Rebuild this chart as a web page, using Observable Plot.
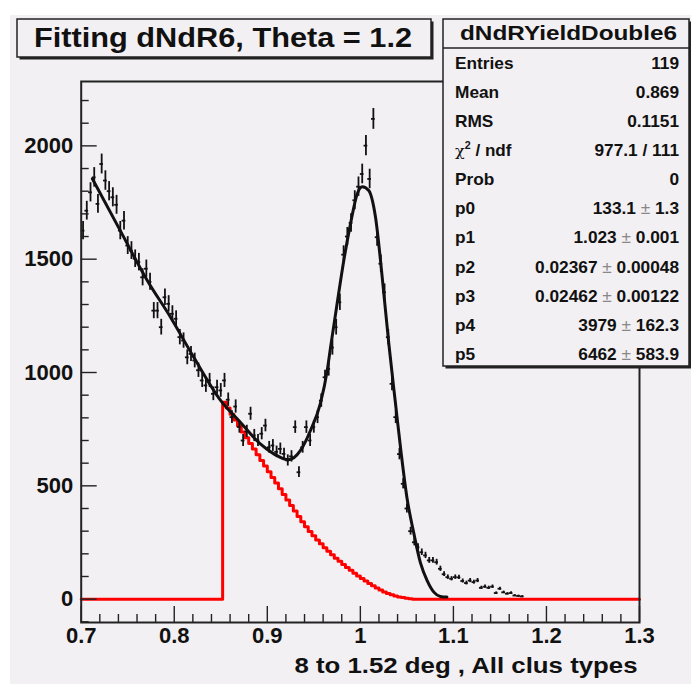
<!DOCTYPE html>
<html><head><meta charset="utf-8">
<script src="https://cdn.jsdelivr.net/npm/d3@7"></script>
<script src="https://cdn.jsdelivr.net/npm/@observablehq/plot@0.6"></script>
<style>
html,body{margin:0;padding:0;background:#fff;}
#wrap{position:relative;width:691px;height:684px;overflow:hidden;}
#bg{position:absolute;left:10px;top:15px;right:0;bottom:0;background:#f3f0f3;}
#chart{position:absolute;left:0;top:0;}
#overlay{position:absolute;left:0;top:0;}
</style></head><body>
<div id="wrap"><div id="bg"></div><div id="chart"></div><svg id="overlay" width="691" height="684"></svg></div>
<script>
// ---- histogram binning ----
const binWidth = 0.004;
const firstBinCenter = 0.702;
// ---- data histogram counts (bins of 0.004 starting at 0.700) ----
const counts = [
  1626, 1714, 1795, 1861, 1744, 1920, 1847, 1800, 1773, 1740,
  1626, 1670, 1560, 1538, 1502, 1487, 1420, 1458, 1400, 1273,
  1273, 1200, 1332, 1303, 1259, 1237, 1156, 1141, 1067, 1082,
  1053, 1010,  965,  943,  965,  906,  935,  921,  965,  880,
   803,  850,  760,  700,  740,  818,  722,  700,  730,  766,
   670,  678,  650,  663,  641,  612,  630,  759,  560,  670,
   759,  700,  760,  803,  876,  979, 1016, 1110, 1200, 1310,
  1520, 1600, 1660, 1760, 1820, 1876, 2001, 1854, 2119, 1597,
  1480, 1354, 1156,  950,  803,  640,  509,  400,  300,  251,
   229,  207,  193,  171,  171,  163,  134,  110,   97,   90,
    97,   96,   80,   71,   82,   75,   82,   50,   55,   50,
    55,   27,   46,   30,   24,   27,   16,   14,   12
];
// ---- fit curve (black) ----
const fitX = [0.712,0.742,0.771,0.796,0.821,0.850,0.871,0.8925,0.907,0.923,0.9357,0.9464,0.957,0.9644,0.968,0.975,0.9822,0.9894,0.9966,1.002,1.009,1.0163,1.0235,1.0306,1.0378,1.044,1.050,1.0575,1.0646,1.0718,1.079,1.086,1.093];
const fitY = [1855,1626,1406,1244,1067,876,781,685,641,615,656,744,863,1009,1112,1303,1494,1656,1788,1820,1803,1685,1420,1127,862,640,450,290,160,82,31,12,9];
// ---- background histogram (red), bins of 0.004 starting at 0.852 ----
const bkgStart = 0.852;
const bkgValues = [869,843,816,790,764,738,712,687,662,637,612,587,562,537,512,487,462,438,413,389,365,342,320,299,280,261,244,227,211,196,181,167,153,140,127,114,102,91,80,69,59,49,40,32,25,19,14,10,7,4,2];
// ---- axes ----
const xDomain = [0.7, 1.3];
const yDomain = [-103, 2284];
const xTicks = [0.7, 0.8, 0.9, 1.0, 1.1, 1.2, 1.3];
const xTickLabels = ["0.7", "0.8", "0.9", "1", "1.1", "1.2", "1.3"];
const xMinor = [0.72,0.74,0.76,0.78,0.82,0.84,0.86,0.88,0.92,0.94,0.96,0.98,1.02,1.04,1.06,1.08,1.12,1.14,1.16,1.18,1.22,1.24,1.26,1.28];
const yTicks = [0, 500, 1000, 1500, 2000];
const yTickLabels = ["0", "500", "1000", "1500", "2000"];
const yMinor = [-100,100,200,300,400,600,700,800,900,1100,1200,1300,1400,1600,1700,1800,1900,2100,2200];
const xLabel = "8 to 1.52 deg , All clus types";
// ---- title and stats ----
const title = "Fitting dNdR6, Theta = 1.2";
const statsName = "dNdRYieldDouble6";
const statsLabels = ["Entries", "Mean", "RMS", "chi2", "Prob", "p0", "p1", "p2", "p3", "p4", "p5"];
const statsValues = [["119"], ["0.869"], ["0.1151"], ["977.1 / 111"], ["0"],
  ["133.1", "1.3"], ["1.023", "0.001"], ["0.02367", "0.00048"], ["0.02462", "0.00122"], ["3979", "162.3"], ["6462", "583.9"]];

const W = 691, H = 684, mL = 80.7, mR = 52, mT = 81, mB = 62;
const frameW = W - mL - mR, frameH = H - mT - mB;

const hist = counts.map((c, i) => ({x: firstBinCenter + i * binWidth, y: c, e: Math.sqrt(c)}));
const fit = fitX.map((x, i) => ({x, y: fitY[i]}));
const bkg = [{x: xDomain[0], y: 0}]
  .concat(bkgValues.map((v, i) => ({x: bkgStart + i * binWidth, y: v})))
  .concat([{x: bkgStart + bkgValues.length * binWidth, y: 0}, {x: xDomain[1], y: 0}]);
const xLabelMap = new Map(xTicks.map((t, i) => [t, xTickLabels[i]]));
const yLabelMap = new Map(yTicks.map((t, i) => [t, yTickLabels[i]]));

const ink = "#111";
const chart = Plot.plot({
  width: W, height: H,
  marginLeft: mL, marginRight: mR, marginTop: mT, marginBottom: mB,
  x: {domain: xDomain},
  y: {domain: yDomain},
  style: {background: "transparent", fontFamily: "'Liberation Sans', Arial, Helvetica, sans-serif", fontWeight: "bold", fontSize: "22px", color: ink, overflow: "visible"},
  marks: [
    Plot.line(bkg, {x: "x", y: "y", curve: "step-after", stroke: "#ff0000", strokeWidth: 3}),
    Plot.ruleX(hist, {x: "x", y1: d => d.y - d.e, y2: d => d.y + d.e, stroke: ink, strokeWidth: 1.8}),
    Plot.ruleY(hist, {y: "y", x1: d => d.x - binWidth / 2, x2: d => d.x + binWidth / 2, stroke: ink, strokeWidth: 1.8}),
    Plot.line(fit, {x: "x", y: "y", curve: "monotone-x", stroke: ink, strokeWidth: 3}),
    Plot.ruleX(xMinor, {x: d => d, insetTop: frameH - 8, stroke: "#222", strokeWidth: 1.4}),
    Plot.ruleX(xTicks, {x: d => d, insetTop: frameH - 16, stroke: "#222", strokeWidth: 1.4}),
    Plot.ruleY(yMinor, {y: d => d, insetRight: frameW - 8, stroke: "#222", strokeWidth: 1.4}),
    Plot.ruleY(yTicks, {y: d => d, insetRight: frameW - 16, stroke: "#222", strokeWidth: 1.4}),
    Plot.axisY(yTicks, {tickSize: 0, tickPadding: 8, fontSize: 22, fontWeight: "bold", tickFormat: d => yLabelMap.get(d), label: null}),
    Plot.axisX(xTicks, {tickSize: 0, tickPadding: 5, fontSize: 22, fontWeight: "bold", tickFormat: d => xLabelMap.get(d), label: null}),
    Plot.text([xLabel], {text: d => d, frameAnchor: "bottom-right", dx: -2, dy: 50, textAnchor: "end", lineAnchor: "bottom", fontSize: 22, fontWeight: "bold", fill: ink}),
    Plot.frame({stroke: "#222", strokeWidth: 2})
  ]
});
document.getElementById("chart").appendChild(chart);
// stretch the x label like the original ROOT rendering
d3.select(chart).selectAll("text").filter(function() { return this.textContent === xLabel; })
  .attr("textLength", 343).attr("lengthAdjust", "spacingAndGlyphs");

// ---- overlay: title box and stats box ----
const ov = d3.select("#overlay");
const font = "'Liberation Sans', Arial, Helvetica, sans-serif";
const panel = "#f3f0f3";
function box(x, y, w, h, sh) {
  ov.append("rect").attr("x", x + sh).attr("y", y + sh).attr("width", w).attr("height", h).attr("fill", "#222");
  ov.append("rect").attr("x", x).attr("y", y).attr("width", w).attr("height", h).attr("fill", panel).attr("stroke", "#222").attr("stroke-width", 1.5);
}
function txt(str, x, y, size, anchor, sx) {
  return ov.append("text").attr("transform", `translate(${x},${y}) scale(${sx},1)`)
    .attr("text-anchor", anchor).attr("font-family", font).attr("font-weight", "bold")
    .attr("font-size", size).attr("fill", ink).text(str);
}
// title
box(17, 19, 414, 38, 2.5);
ov.append("text").attr("x", 223).attr("y", 47).attr("text-anchor", "middle")
  .attr("font-family", font).attr("font-weight", "bold").attr("font-size", 28).attr("fill", ink)
  .attr("textLength", 378).attr("lengthAdjust", "spacingAndGlyphs").text(title);
// stats
box(443, 19, 246, 347, 2.5);
ov.append("line").attr("x1", 443).attr("x2", 689).attr("y1", 48).attr("y2", 48).attr("stroke", "#222").attr("stroke-width", 1.5);
ov.append("text").attr("x", 568.5).attr("y", 40).attr("text-anchor", "middle")
  .attr("font-family", font).attr("font-weight", "bold").attr("font-size", 20).attr("fill", ink)
  .attr("textLength", 217).attr("lengthAdjust", "spacingAndGlyphs").text(statsName);
statsLabels.forEach((lab, i) => {
  const y = 68.5 + 29.15 * i;
  if (lab === "chi2") {
    const t = ov.append("text").attr("transform", `translate(455,${y}) scale(1.07,1)`)
      .attr("font-family", font).attr("font-size", 16).attr("fill", ink);
    t.append("tspan").attr("font-family", "'DejaVu Serif', serif").attr("font-size", 15).text("χ");
    t.append("tspan").attr("font-size", 10).attr("dy", -7).attr("font-weight", "bold").text("2");
    t.append("tspan").attr("dy", 7).attr("font-weight", "bold").text(" / ndf");
  } else {
    txt(lab, 455, y, 16, "start", 1.08);
  }
  const v = statsValues[i];
  const t = ov.append("text").attr("transform", `translate(679,${y}) scale(1.08,1)`)
    .attr("text-anchor", "end").attr("font-family", font).attr("font-weight", "bold")
    .attr("font-size", 16).attr("fill", ink);
  if (v.length === 1) {
    t.text(v[0]);
  } else {
    t.append("tspan").text(v[0] + " ");
    t.append("tspan").attr("font-weight", "normal").attr("fill", "#888").text("±");
    t.append("tspan").text(" " + v[1]);
  }
});
</script>
</body></html>
